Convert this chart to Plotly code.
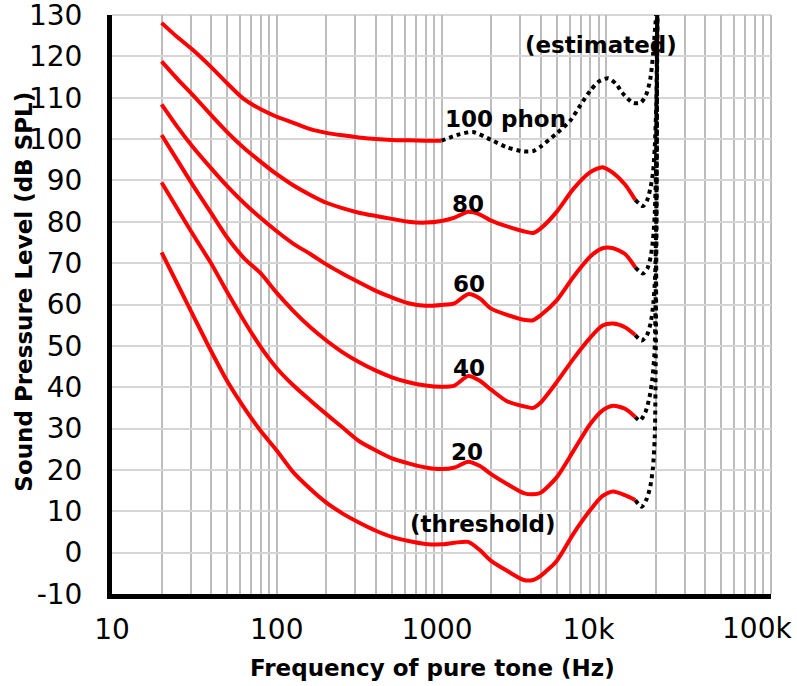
import plotly.graph_objects as go

# ---------------- data ----------------
FREQ = [20, 25, 31.5, 40, 50, 63, 80, 100, 125, 160, 200, 250, 315, 400, 500,
        630, 800, 1000, 1200, 1450, 1700, 2000, 2500, 3150, 3600, 4000, 5000,
        6300, 8000, 9500, 11000, 13000, 15000]

THRESHOLD = [72.6, 64.9, 56.9, 48.7, 41.5, 35.2, 29.4, 24.7, 19.6, 15.4, 12.1,
             9.5, 7.3, 5.3, 3.8, 2.8, 2.1, 2.0, 2.4, 2.6, 0.7, -2.0, -4.4, -6.6,
             -6.6, -5.6, -2.0, 4.5, 10.3, 13.7, 14.8, 13.9, 12.7]
PHON20 = [89.5, 83.1, 76.5, 69.9, 63.0, 56.2, 49.7, 44.6, 40.6, 36.8, 33.5,
          30.3, 27.0, 24.7, 22.8, 21.6, 20.6, 20.2, 20.6, 22.0, 21.0, 19.0, 16.6,
          14.4, 14.1, 14.5, 18.2, 24.5, 31.1, 34.4, 35.5, 34.8, 32.8]
PHON40 = [101.0, 94.8, 88.4, 82.1, 76.2, 71.3, 67.5, 62.8, 58.6, 54.5, 51.3,
          48.5, 46.1, 44.0, 42.4, 41.2, 40.4, 40.1, 40.4, 42.7, 41.6, 39.4, 36.6,
          35.4, 35.0, 36.3, 41.2, 46.8, 52.0, 54.9, 55.4, 54.5, 52.6]
PHON60 = [108.4, 102.9, 97.7, 92.9, 88.6, 84.6, 80.9, 77.7, 74.8, 72.2, 69.7,
          67.5, 65.4, 63.3, 61.7, 60.3, 59.7, 59.9, 60.3, 62.5, 61.5, 59.0, 57.5,
          56.3, 56.2, 57.4, 61.0, 66.6, 71.6, 73.6, 73.6, 72.2, 69.0]
PHON80 = [118.8, 114.5, 110.3, 105.8, 101.7, 97.9, 94.5, 91.5, 88.9, 86.5, 84.6,
          83.3, 82.2, 81.4, 80.7, 80.0, 79.8, 80.2, 81.0, 82.4, 81.8, 80.3, 78.9,
          77.7, 77.3, 78.4, 82.4, 87.9, 92.0, 93.2, 91.8, 89.0, 85.3]
PHON100_FREQ = FREQ[:18]
PHON100 = [128.1, 124.6, 121.3, 117.4, 113.5, 109.7, 107.2, 105.4, 104.0, 102.4,
           101.5, 100.9, 100.4, 100.0, 99.8, 99.7, 99.6, 99.6]

# estimated (dotted) extensions
THRESHOLD_EXT_F = [15000, 16400, 17600, 18500, 19200, 19700, 20000, 20200, 20400]
THRESHOLD_EXT_V = [12.7, 11.1, 13.0, 16.0, 20.5, 28.0, 50.0, 90.0, 130.0]
PHON20_EXT_F = [15000, 16000, 17300, 18300, 19000, 19600, 20000, 20400]
PHON20_EXT_V = [32.8, 31.9, 34.0, 37.6, 41.6, 48.0, 65.0, 130.0]
PHON40_EXT_F = [15000, 16400, 17600, 18600, 19300, 19800, 20100, 20400]
PHON40_EXT_V = [52.6, 51.3, 52.5, 55.5, 60.2, 67.0, 80.0, 130.0]
PHON60_EXT_F = [15000, 16700, 17800, 18600, 19200, 19700, 20100, 20400]
PHON60_EXT_V = [69.0, 67.5, 68.8, 71.5, 75.5, 82.0, 95.0, 130.0]
PHON80_EXT_F = [15000, 16700, 17700, 18500, 19200, 19700, 20100, 20400]
PHON80_EXT_V = [85.3, 83.8, 85.2, 88.0, 91.7, 98.0, 108.0, 130.0]
PHON100_EXT_F = [1000, 1250, 1550, 2000, 2500, 3150, 3600, 4000, 5000, 6000, 7000,
                 8000, 9000, 10300, 11500, 12500, 14500, 16200, 17500, 18500,
                 19300, 19800, 20100]
PHON100_EXT_V = [99.6, 101.0, 101.7, 99.8, 98.0, 97.0, 97.1, 98.2, 101.4, 104.3,
                 108.3, 111.7, 113.9, 114.7, 113.3, 111.2, 108.8, 108.8, 110.8,
                 114.5, 121.0, 127.0, 130.0]

X_TICKS = [10, 100, 1000, 10000, 100000]
X_LABELS = ["10", "100", "1000\u00a0", "10k\u00a0\u00a0\u00a0\u00a0", ""]
X_LAST_LABEL = "100k"
X_MINOR = [m * d for d in (10, 100, 1000, 10000) for m in range(2, 10)]
Y_TICKS = list(range(-10, 131, 10))
Y_LABELS = [str(v) for v in Y_TICKS]

FONT = "DejaVu Sans"

fig = go.Figure()

def add_line(f, v, dotted):
    fig.add_trace(go.Scatter(
        x=f, y=v, mode="lines", showlegend=False, hoverinfo="skip",
        cliponaxis=True,
        line=dict(color="black" if dotted else "#ff0000", width=4,
                  dash="dot" if dotted else "solid", shape="spline",
                  smoothing=0.7)))

for f, v in [(THRESHOLD_EXT_F, THRESHOLD_EXT_V), (PHON20_EXT_F, PHON20_EXT_V),
             (PHON40_EXT_F, PHON40_EXT_V), (PHON60_EXT_F, PHON60_EXT_V),
             (PHON80_EXT_F, PHON80_EXT_V), (PHON100_EXT_F, PHON100_EXT_V)]:
    add_line(f, v, True)

for f, v in [(FREQ, THRESHOLD), (FREQ, PHON20), (FREQ, PHON40), (FREQ, PHON60),
             (FREQ, PHON80), (PHON100_FREQ, PHON100)]:
    add_line(f, v, False)

labels = [
    ("100 phon", 3.3863, 104.97),
    ("80", 3.1607, 84.3),
    ("60", 3.1662, 65.07),
    ("40", 3.1662, 44.65),
    ("20", 3.1540, 24.24),
    ("(threshold)", 3.2498, 6.88),
    ("(estimated)", 3.9673, 122.8),
]
annotations = [dict(text="<b>%s</b>" % t, x=x, y=y, xref="x", yref="y",
                    showarrow=False, xanchor="center", yanchor="middle",
                    font=dict(family=FONT, size=23, color="black"))
               for t, x, y in labels]
# last x tick label (kept inside the page like the reference)
annotations.append(dict(text=X_LAST_LABEL, x=4.9127, y=-0.0604, xref="x",
                        yref="paper", showarrow=False, xanchor="center",
                        yanchor="middle",
                        font=dict(family=FONT, size=28, color="black")))
annotations.append(dict(text="<b>Frequency of pure tone (Hz)</b>", xref="paper",
                        yref="paper", x=0.4867, y=-0.128, showarrow=False,
                        xanchor="center", yanchor="middle",
                        font=dict(family=FONT, size=23, color="black")))
annotations.append(dict(text="<b>Sound Pressure Level (dB SPL)</b>", xref="paper",
                        yref="paper", x=-0.134, y=0.5216, showarrow=False,
                        textangle=-90, xanchor="center", yanchor="middle",
                        font=dict(family=FONT, size=23, color="black")))

fig.update_layout(
    width=797, height=686,
    margin=dict(l=112, r=26, t=15, b=92, pad=0, autoexpand=False),
    paper_bgcolor="white", plot_bgcolor="white",
    font=dict(family=FONT, color="black"),
    annotations=annotations,
    shapes=[dict(type="line", xref="paper", yref="paper", x0=0, x1=1, y0=1, y1=1,
                 line=dict(color="#d6d6d6", width=2), layer="below"),
            dict(type="line", xref="paper", yref="paper", x0=1, x1=1, y0=0, y1=1,
                 line=dict(color="#bdbdbd", width=2), layer="below")],
    xaxis=dict(type="log", range=[1, 5], tickmode="array", tickvals=X_TICKS,
               ticktext=X_LABELS, showline=True, linewidth=5, linecolor="black",
               ticks="outside", ticklen=6, tickcolor="rgba(0,0,0,0)",
               ticklabeloverflow="allow",
               showgrid=True, gridcolor="#bdbdbd", gridwidth=2, zeroline=False,
               automargin=False,
               tickfont=dict(family=FONT, size=28, color="black"),
               minor=dict(tickmode="array", tickvals=X_MINOR, showgrid=True,
                          gridcolor="#bdbdbd", gridwidth=2, ticks="")),
    yaxis=dict(range=[-10, 130], tickmode="array", tickvals=Y_TICKS,
               ticktext=Y_LABELS, showline=True, linewidth=5, linecolor="black",
               ticks="outside", ticklen=19, tickcolor="rgba(0,0,0,0)",
               ticklabeloverflow="allow",
               showgrid=True, gridcolor="#d6d6d6", gridwidth=2, zeroline=False,
               automargin=False,
               tickfont=dict(family=FONT, size=28, color="black")),
)

fig.write_html("out.html",
               config={"displayModeBar": False, "staticPlot": True},
               post_script="document.body.style.margin='0px';"
                           "document.body.style.padding='0px';")
